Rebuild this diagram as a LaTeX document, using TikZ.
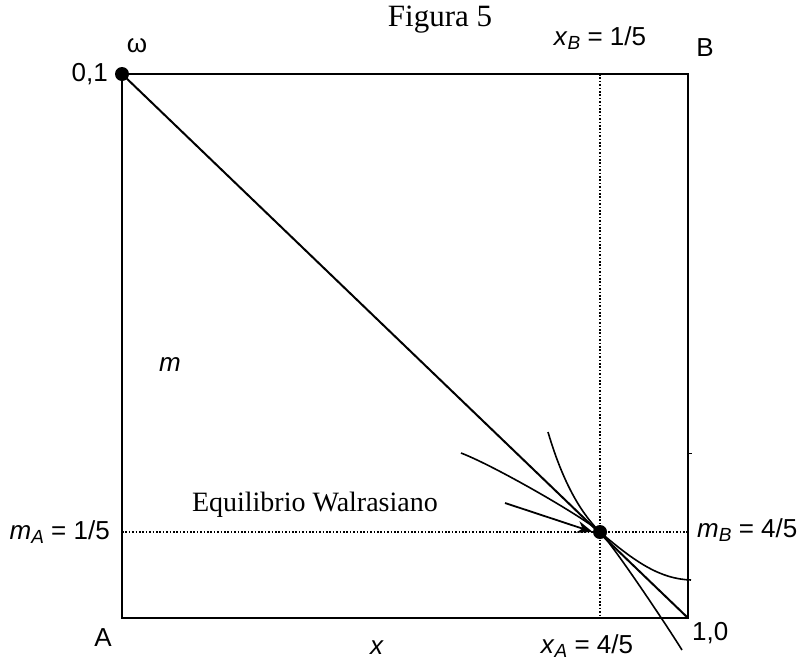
\documentclass[tikz,border=0pt]{standalone}
\usepackage{fontspec}
\setmainfont{Liberation Sans}
\newfontfamily\serfont{Liberation Serif}
\usetikzlibrary{arrows.meta}
\newcommand\sublab[2]{\textit{#1}\raisebox{-0.3ex}{\fontsize{19}{19}\selectfont\textit{#2}}}
\tikzset{
  frame/.style={line width=1.8pt},
  guide/.style={line width=1.6pt, dash pattern=on 1.6pt off 1.8pt},
  curve/.style={line width=1.6pt},
  lab/.style={font=\fontsize{26}{26}\selectfont, inner sep=0pt},
  serlab/.style={font=\serfont\fontsize{28}{28}\selectfont, inner sep=0pt},
  dot/.style={circle, fill=black, inner sep=0pt, minimum size=14pt}
}
\begin{document}
\begin{tikzpicture}[x=1pt,y=-1pt]
\useasboundingbox (0,0) rectangle (808,662);
% corners
\coordinate (A) at (122,618);
\coordinate (TL) at (122,74);
\coordinate (TR) at (688,74);
\coordinate (BR) at (688,618);
\coordinate (vt) at (600,74);
\coordinate (vb) at (600,618);
\coordinate (hl) at (122,532);
\coordinate (hr) at (688,532);
\coordinate (E) at (600,532);
% dotted guides
\draw[guide] (vt) -- (vb);
\draw[guide] (hl) -- (hr);
% box
\draw[frame] (TL) -- (TR) -- (BR) -- (A) -- cycle;
\draw[line width=1pt] (688,453) -- (692,453);
% budget line
\draw[line width=2pt] (TL) -- (BR);
% indifference curves
\draw[curve] (548,432) .. controls (565,490) and (585,517) .. (E)
  .. controls (635,562) and (660,579) .. (691,580);
\draw[curve] (461,453) .. controls (495,466) and (585,518) .. (E)
  .. controls (612,544) and (662,618) .. (682,650);
% dots
\node[dot] (w) at (TL) {};
\node[dot] (eq) at (E) {};
% arrow
\coordinate (arrS) at (505,503);
\draw[line width=1.8pt, -{Stealth[length=16pt,width=12pt]}] (arrS) -- (eq.west);
% labels
\node[serlab, font=\serfont\fontsize{31}{31}\selectfont] (fig) at (440,20) {Figura 5};
\node[lab] (xB) at (600,38) {\sublab{x}{B} = 1/5};
\node[lab] (B) at (705,48) {B};
\node[lab] (om) at (137,46) {ω};
\node[lab, anchor=east] (o1) at (108,74) {0,1};
\node[lab] (m) at (170,365) {\textit{m}};
\node[lab, anchor=east] (mA) at (110,532) {\sublab{m}{A} = 1/5};
\node[serlab, anchor=base east] (ew) at (438,511) {Equilibrio Walrasiano};
\node[lab, anchor=west] (mB) at (697,530) {\sublab{m}{B} = 4/5};
\node[lab] (Al) at (103,638) {A};
\node[lab] (xl) at (377,648) {\textit{x}};
\node[lab] (xA) at (587,646) {\sublab{x}{A} = 4/5};
\node[lab, anchor=west] (o10) at (692,633) {1,0};
\end{tikzpicture}
\end{document}
